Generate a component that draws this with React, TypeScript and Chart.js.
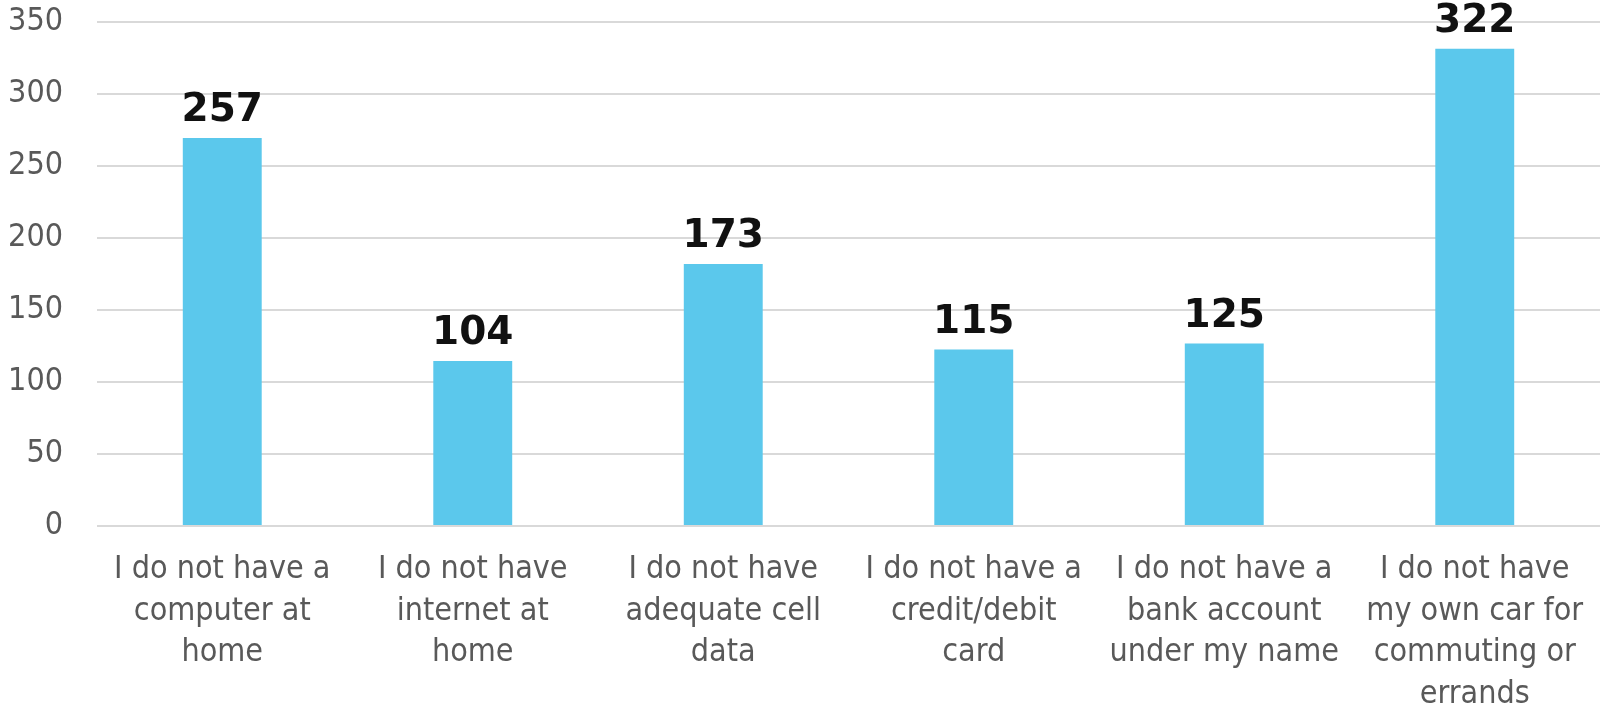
import React, { useEffect, useRef } from "react";
import { Chart, registerables } from "chart.js";

Chart.register(...registerables);

const categories: string[][] = [
  ["I do not have a", "computer at", "home"],
  ["I do not have", "internet at", "home"],
  ["I do not have", "adequate cell", "data"],
  ["I do not have a", "credit/debit", "card"],
  ["I do not have a", "bank account", "under my name"],
  ["I do not have", "my own car for", "commuting or", "errands"],
];

// bar heights as drawn in the picture
const barValues: number[] = [269.5, 114.6, 182, 122.5, 126.7, 331.5];
// numbers printed above the bars
const valueLabels: string[] = ["257", "104", "173", "115", "125", "322"];

const yTicks: number[] = [0, 50, 100, 150, 200, 250, 300, 350];

const valueLabelPlugin = {
  id: "valueLabels",
  afterDatasetsDraw(chart: any) {
    const ctx = chart.ctx;
    const meta = chart.getDatasetMeta(0);
    ctx.save();
    ctx.font = "bold 39px 'DejaVu Sans'";
    ctx.fillStyle = "#111111";
    ctx.textAlign = "center";
    ctx.textBaseline = "alphabetic";
    meta.data.forEach((bar: any, i: number) => {
      ctx.fillText(valueLabels[i], bar.x, bar.y - 17);
    });
    ctx.restore();
  },
};

export default function App() {
  const ref = useRef<HTMLCanvasElement | null>(null);
  useEffect(() => {
    document.body.style.margin = "0";
    const canvas = ref.current!;
    const chart = new Chart(canvas, {
      type: "bar",
      data: {
        labels: categories,
        datasets: [
          {
            data: barValues,
            backgroundColor: "#5bc8ec",
            borderWidth: 0,
            barPercentage: 0.315,
            categoryPercentage: 1,
          },
        ],
      },
      options: {
        animation: false,
        responsive: false,
        maintainAspectRatio: false,
        layout: { padding: { left: 10, right: 3, top: 22, bottom: 0 } },
        plugins: {
          legend: { display: false },
          tooltip: { enabled: false },
        },
        scales: {
          x: {
            grid: { display: false },
            border: { display: false },
            ticks: {
              autoSkip: false,
              maxRotation: 0,
              minRotation: 0,
              padding: 15,
              color: "#595959",
              font: { family: "'DejaVu Sans Condensed', 'DejaVu Sans'", size: 32, lineHeight: "41.5px" },
            },
            afterFit: (s: any) => {
              s.height = 187;
              s.paddingLeft = 0;
              s.paddingRight = 0;
            },
          },
          y: {
            min: 0,
            max: 350,
            afterBuildTicks: (axis: any) => {
              axis.ticks = yTicks.map((v) => ({ value: v }));
            },
            afterFit: (s: any) => {
              s.width = 87;
              s.paddingTop = 0;
              s.paddingBottom = 0;
            },
            grid: { color: "#d9d9d9", lineWidth: 2, drawTicks: false },
            border: { display: false },
            ticks: {
              padding: 34,
              color: "#595959",
              font: { family: "'DejaVu Sans Condensed', 'DejaVu Sans'", size: 32 },
            },
          },
        },
      },
      plugins: [valueLabelPlugin],
    });
    return () => chart.destroy();
  }, []);
  return <canvas ref={ref} width={1603} height={713} style={{ display: "block" }} />;
}
